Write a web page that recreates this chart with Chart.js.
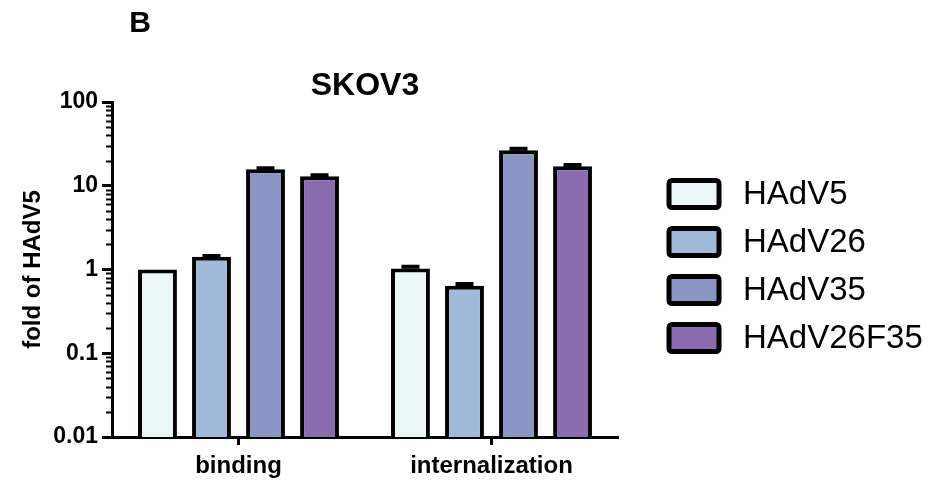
<!DOCTYPE html>
<html>
<head>
<meta charset="utf-8">
<script src="https://cdn.jsdelivr.net/npm/chart.js@4.4.1/dist/chart.umd.min.js"></script>
<style>
  html, body { margin: 0; padding: 0; background: #ffffff; }
  #wrap { width: 937px; height: 484px; position: relative; }
</style>
</head>
<body>
<div id="wrap"><canvas id="c" width="937" height="484"></canvas></div>
<script>
// Assay groups on the x axis
const categories = ['binding', 'internalization'];

// Virus names and bar fills
const seriesNames = ['HAdV5', 'HAdV26', 'HAdV35', 'HAdV26F35'];
const seriesColors = ['#EBF6F7', '#9FBBD9', '#8A95C5', '#8B6BAF'];

// Fold change relative to HAdV5 (binding, internalization)
const hadv5 = [1.0, 1.03];
const hadv26 = [1.42, 0.64];
const hadv35 = [15.7, 26.6];
const hadv26f35 = [13.0, 17.1];

// Upper error (SD) for each bar
const hadv5Err = [0, 0.05];
const hadv26Err = [0.03, 0.03];
const hadv35Err = [0.5, 1.1];
const hadv26f35Err = [0.35, 0.55];

// Log axis decades shown with labels
const yTicks = [0.01, 0.1, 1, 10, 100];

const seriesValues = [hadv5, hadv26, hadv35, hadv26f35];
const seriesErrors = [hadv5Err, hadv26Err, hadv35Err, hadv26f35Err];

const FONT = "'Liberation Sans', Arial, Helvetica, sans-serif";

// Upper error bars with caps
const errorBars = {
  id: 'errorBars',
  afterDatasetsDraw(chart) {
    const ctx = chart.ctx;
    const y = chart.scales.y;
    ctx.save();
    ctx.strokeStyle = '#000';
    ctx.lineWidth = 4;
    chart.data.datasets.forEach((ds, i) => {
      const meta = chart.getDatasetMeta(i);
      meta.data.forEach((bar, j) => {
        const err = ds.errors[j];
        if (!err) return;
        const top = y.getPixelForValue(ds.data[j] + err);
        ctx.beginPath();
        ctx.moveTo(bar.x, bar.y);
        ctx.lineTo(bar.x, top);
        ctx.moveTo(bar.x - 9, top);
        ctx.lineTo(bar.x + 9, top);
        ctx.stroke();
      });
    });
    ctx.restore();
  }
};

// Short minor ticks between decades on the log axis
const minorTicks = {
  id: 'minorTicks',
  afterDraw(chart) {
    const ctx = chart.ctx;
    const y = chart.scales.y;
    const x0 = chart.chartArea.left;
    ctx.save();
    ctx.strokeStyle = '#000';
    ctx.lineWidth = 2;
    for (let d = 0.01; d < 100; d *= 10) {
      for (let k = 2; k <= 9; k++) {
        const py = Math.round(y.getPixelForValue(d * k)) + 0.5;
        ctx.beginPath();
        ctx.moveTo(x0 - 6, py);
        ctx.lineTo(x0, py);
        ctx.stroke();
      }
    }
    ctx.restore();
  }
};

// Panel letter and legend on the right
const panelAndLegend = {
  id: 'panelAndLegend',
  afterDraw(chart) {
    const ctx = chart.ctx;
    ctx.save();
    ctx.fillStyle = '#000';
    ctx.font = 'bold 30px ' + FONT;
    ctx.textAlign = 'center';
    ctx.textBaseline = 'middle';
    ctx.fillText('B', 140, 24);

    const bx = 669, bw = 50, bh = 27, pitch = 48, y0 = 194;
    chart.data.datasets.forEach((ds, i) => {
      const cy = y0 + i * pitch;
      ctx.beginPath();
      if (ctx.roundRect) ctx.roundRect(bx, cy - bh / 2, bw, bh, 3);
      else ctx.rect(bx, cy - bh / 2, bw, bh);
      ctx.fillStyle = ds.backgroundColor;
      ctx.fill();
      ctx.lineWidth = 5;
      ctx.strokeStyle = '#000';
      ctx.stroke();
      ctx.fillStyle = '#000';
      ctx.font = '33px ' + FONT;
      ctx.textAlign = 'left';
      ctx.textBaseline = 'middle';
      ctx.fillText(ds.label, 743, cy + 1);
    });
    ctx.restore();
  }
};

new Chart(document.getElementById('c'), {
  type: 'bar',
  data: {
    labels: categories,
    datasets: seriesNames.map((name, i) => ({
      label: name,
      data: seriesValues[i],
      errors: seriesErrors[i],
      backgroundColor: seriesColors[i],
      borderColor: '#000',
      borderWidth: 4,
      borderSkipped: 'bottom',
      categoryPercentage: 0.854,
      barPercentage: 0.72
    }))
  },
  options: {
    responsive: false,
    animation: false,
    layout: { padding: { left: 0, right: 319, top: 0, bottom: 0 } },
    plugins: {
      legend: { display: false },
      tooltip: { enabled: false },
      title: {
        display: true,
        text: 'SKOV3',
        fullSize: false,
        color: '#000',
        font: { family: FONT, size: 32, weight: 'bold', lineHeight: 1 },
        padding: { top: 70, bottom: 0 }
      }
    },
    scales: {
      x: {
        grid: { display: true, drawOnChartArea: false, offset: false, tickLength: 8, tickWidth: 3, tickColor: '#000' },
        border: { display: true, color: '#000', width: 3 },
        ticks: { color: '#000', padding: 7, font: { family: FONT, size: 24, weight: 'bold' } },
        afterFit(scale) { scale.height = 47; }
      },
      y: {
        type: 'logarithmic',
        min: 0.01,
        max: 100,
        afterBuildTicks(scale) { scale.ticks = yTicks.map(v => ({ value: v, major: true })); },
        grid: { display: true, drawOnChartArea: false, tickLength: 10, tickWidth: 3, tickColor: '#000' },
        border: { display: true, color: '#000', width: 3 },
        ticks: {
          color: '#000',
          padding: 4,
          font: { family: FONT, size: 23, weight: 'bold' },
          callback: (v) => String(v)
        },
        title: {
          display: true,
          text: 'fold of HAdV5',
          color: '#000',
          font: { family: FONT, size: 24, weight: 'bold' },
          padding: { top: 19, bottom: 0 }
        },
        afterFit(scale) { scale.width = 112; }
      }
    }
  },
  plugins: [errorBars, minorTicks, panelAndLegend]
});
</script>
</body>
</html>
